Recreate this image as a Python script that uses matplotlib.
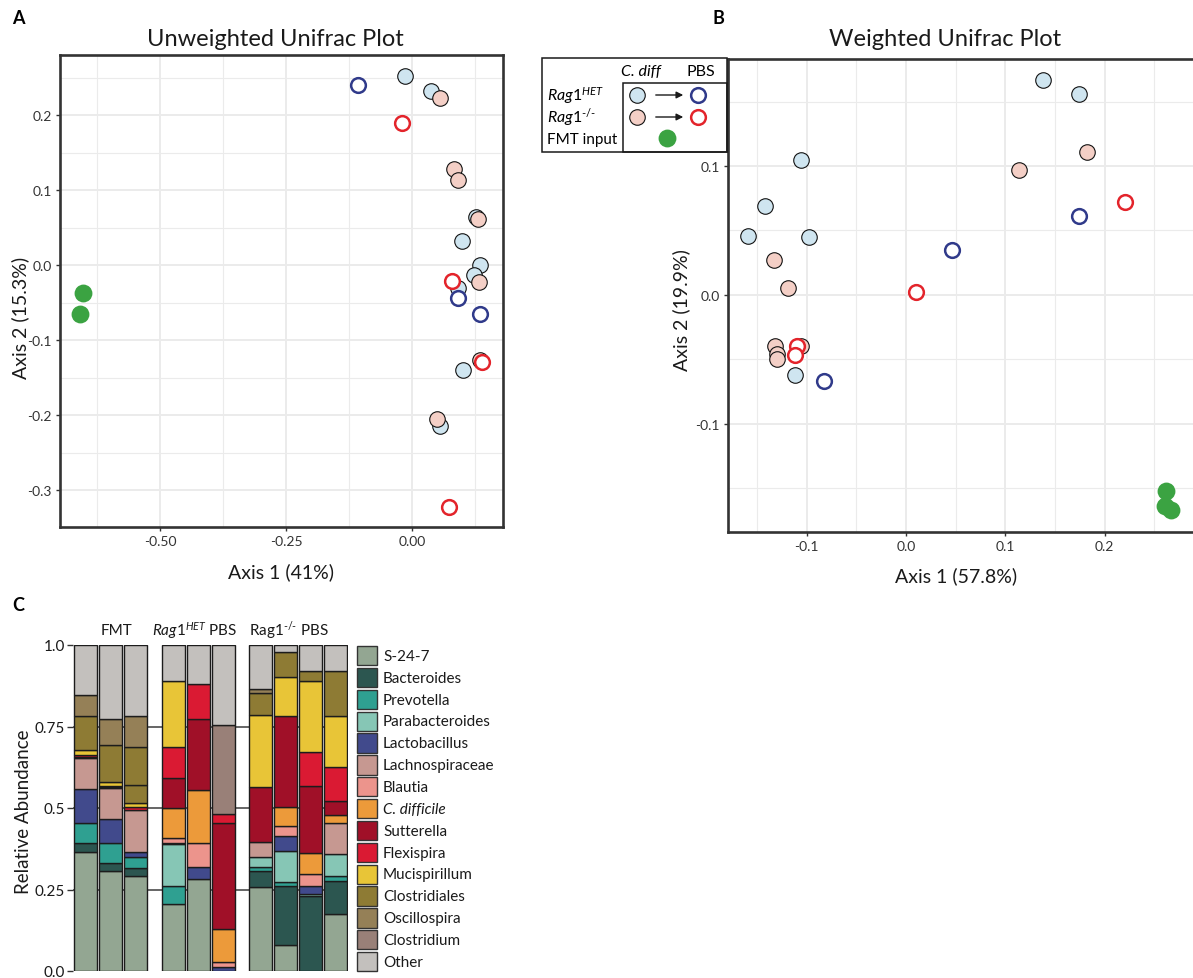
import matplotlib
matplotlib.use("Agg")
import matplotlib.pyplot as plt
from matplotlib.patches import Rectangle

plt.rcParams['font.family'] = ['Lato', 'DejaVu Sans']
plt.rcParams['mathtext.fontset'] = 'custom'
plt.rcParams['mathtext.rm'] = 'Lato'
plt.rcParams['mathtext.it'] = 'Lato:italic'
plt.rcParams['mathtext.bf'] = 'Lato:bold'

W, H = 1193, 979

# ---- PCoA data (Axis 1, Axis 2) ----
# unweighted unifrac
unw_het_cdiff = [(-0.014, 0.252), (0.038, 0.232), (0.126, 0.064), (0.098, 0.032), (0.134, 0.000),
                 (0.122, -0.013), (0.091, -0.030), (0.100, -0.140), (0.056, -0.215)]
unw_ko_cdiff = [(0.056, 0.223), (0.082, 0.128), (0.091, 0.114), (0.131, 0.061), (0.132, -0.022),
                (0.134, -0.126), (0.049, -0.205)]
unw_het_pbs = [(-0.107, 0.240), (0.090, -0.044), (0.135, -0.065)]
unw_ko_pbs = [(-0.020, 0.190), (0.078, -0.021), (0.139, -0.129), (0.073, -0.323)]
unw_fmt = [(-0.652, -0.037), (-0.659, -0.065)]

# weighted unifrac
w_het_cdiff = [(0.138, 0.167), (0.174, 0.156), (-0.106, 0.105), (-0.142, 0.069), (-0.159, 0.046),
               (-0.097, 0.045), (-0.112, -0.062)]
w_ko_cdiff = [(0.182, 0.111), (0.114, 0.097), (-0.133, 0.027), (-0.119, 0.005), (-0.106, -0.040),
              (-0.132, -0.040), (-0.130, -0.046), (-0.130, -0.050)]
w_het_pbs = [(0.174, 0.061), (0.046, 0.035), (-0.082, -0.067)]
w_ko_pbs = [(0.221, 0.072), (0.010, 0.002), (-0.110, -0.040), (-0.112, -0.047)]
w_fmt = [(0.262, -0.152), (0.261, -0.164), (0.267, -0.167)]

# ---- relative abundance, 10 samples ----
bar_x = [0, 1, 2, 3.5, 4.5, 5.5, 7, 8, 9, 10]
s247 = [0.364, 0.308, 0.292, 0.206, 0.282, 0, 0.257, 0.080, 0, 0.175]
bacteroides = [0.029, 0.023, 0.023, 0, 0, 0, 0.049, 0.182, 0.229, 0.100]
prevotella = [0.060, 0.062, 0.034, 0.056, 0, 0, 0.012, 0.012, 0, 0.015]
parabacteroides = [0, 0, 0, 0.128, 0, 0, 0.031, 0.093, 0.007, 0.069]
lactobacillus = [0.105, 0.073, 0.015, 0.003, 0.036, 0.013, 0, 0.048, 0.024, 0]
lachnospiraceae = [0.094, 0.095, 0.131, 0, 0, 0, 0.046, 0, 0, 0.094]
blautia = [0, 0, 0, 0.014, 0.075, 0.014, 0, 0.031, 0.038, 0]
cdiff = [0, 0, 0, 0.092, 0.162, 0.102, 0, 0.056, 0.063, 0.027]
sutterella = [0.004, 0.003, 0, 0.092, 0.218, 0.324, 0.168, 0.279, 0.208, 0.040]
flexispira = [0.006, 0.005, 0.007, 0.095, 0.107, 0.029, 0, 0, 0.102, 0.105]
mucispirillum = [0.017, 0.012, 0.013, 0.203, 0, 0, 0.222, 0.120, 0.218, 0.158]
clostridiales = [0.104, 0.112, 0.056, 0, 0, 0, 0.068, 0.077, 0.032, 0.136]
clostridiales_2 = [0, 0, 0.115, 0, 0, 0, 0, 0, 0, 0]  # second OTU, same colour
oscillospira = [0.064, 0.080, 0.097, 0, 0, 0, 0.012, 0, 0, 0]
clostridium = [0, 0, 0, 0, 0, 0.273, 0, 0, 0, 0]
other = [0.153, 0.227, 0.217, 0.111, 0.120, 0.245, 0.135, 0.022, 0.079, 0.081]

taxa = [("S-24-7", s247, "#93a692"), ("Bacteroides", bacteroides, "#2c5650"),
        ("Prevotella", prevotella, "#2fa091"), ("Parabacteroides", parabacteroides, "#86c6b5"),
        ("Lactobacillus", lactobacillus, "#414a8c"), ("Lachnospiraceae", lachnospiraceae, "#c69891"),
        ("Blautia", blautia, "#ec948c"), ("C. difficile", cdiff, "#ec9a3a"),
        ("Sutterella", sutterella, "#a01028"), ("Flexispira", flexispira, "#da1a33"),
        ("Mucispirillum", mucispirillum, "#e8c537"), ("Clostridiales", clostridiales, "#8e7b34"),
        (None, clostridiales_2, "#8e7b34"), ("Oscillospira", oscillospira, "#958057"),
        ("Clostridium", clostridium, "#998078"), ("Other", other, "#c3c0bd")]

c_light_blue = "#cfe5f0"
c_pink = "#f4cfc6"
c_blue = "#303a8a"
c_red = "#e3242b"
c_green = "#3ba342"

S_FILLED, S_OPEN, S_FMT = 125, 112, 165

fig = plt.figure(figsize=(W / 100, H / 100), dpi=100)


def pcoa_axes(rect, xlim, ylim, xt, xminor, yt, yminor, xfmt, yfmt):
    ax = fig.add_axes(rect)
    ax.set_xlim(*xlim)
    ax.set_ylim(*ylim)
    ax.set_xticks(xt)
    ax.set_xticklabels([xfmt % v for v in xt])
    ax.set_xticks(xminor, minor=True)
    ax.set_yticks(yt)
    ax.set_yticklabels([yfmt % v for v in yt])
    ax.set_yticks(yminor, minor=True)
    ax.grid(which='major', color='#ebebeb', lw=1.4, zorder=0)
    ax.grid(which='minor', color='#ebebeb', lw=0.8, zorder=0)
    ax.set_axisbelow(True)
    ax.tick_params(which='major', length=3, width=1, color='#333333', labelcolor='#333333',
                   labelsize=10, pad=3)
    ax.tick_params(which='minor', length=0)
    for s in ax.spines.values():
        s.set_color('#333333')
        s.set_linewidth(1.9)
    return ax


def draw_points(ax, het_c, ko_c, het_p, ko_p, fmt):
    for pts, fc in [(het_c, c_light_blue), (ko_c, c_pink)]:
        ax.scatter([p[0] for p in pts], [p[1] for p in pts], s=S_FILLED, facecolor=fc,
                   edgecolor='#111111', linewidth=0.8, zorder=3)
    for pts, ec in [(het_p, c_blue), (ko_p, c_red)]:
        ax.scatter([p[0] for p in pts], [p[1] for p in pts], s=S_OPEN, facecolor='white',
                   edgecolor=ec, linewidth=1.8, zorder=4)
    ax.scatter([p[0] for p in fmt], [p[1] for p in fmt], s=S_FMT, color=c_green,
               linewidth=0, zorder=4)


# ---- A ----
ax_a = pcoa_axes([60 / W, 1 - 528 / H, 443 / W, 472 / H], (-0.698, 0.18), (-0.349, 0.28),
                 [-0.5, -0.25, 0.0], [-0.625, -0.375, -0.125, 0.125],
                 [-0.3, -0.2, -0.1, 0.0, 0.1, 0.2], [-0.25, -0.15, -0.05, 0.05, 0.15, 0.25],
                 "%.2f", "%.1f")
draw_points(ax_a, unw_het_cdiff, unw_ko_cdiff, unw_het_pbs, unw_ko_pbs, unw_fmt)
fig.text(275 / W, 1 - 40 / H, "Unweighted Unifrac Plot", ha='center', va='center',
         fontsize=17, color='#1a1a1a')
fig.text(281 / W, 1 - 572 / H, "Axis 1 (41%)", ha='center', va='center', fontsize=14,
         color='#1a1a1a')
fig.text(20 / W, 1 - 318 / H, "Axis 2 (15.3%)", ha='center', va='center', fontsize=14,
         rotation=90, color='#1a1a1a')

# ---- B ----
ax_b = pcoa_axes([728 / W, 1 - 533 / H, 474 / W, 473 / H], (-0.179, 0.298), (-0.184, 0.183),
                 [-0.1, 0.0, 0.1, 0.2], [-0.15, -0.05, 0.05, 0.15, 0.25],
                 [-0.1, 0.0, 0.1], [-0.15, -0.05, 0.05, 0.15],
                 "%.1f", "%.1f")
draw_points(ax_b, w_het_cdiff, w_ko_cdiff, w_het_pbs, w_ko_pbs, w_fmt)
fig.text(945 / W, 1 - 40 / H, "Weighted Unifrac Plot", ha='center', va='center',
         fontsize=17, color='#1a1a1a')
fig.text(956 / W, 1 - 576 / H, "Axis 1 (57.8%)", ha='center', va='center', fontsize=14,
         color='#1a1a1a')
fig.text(681 / W, 1 - 310 / H, "Axis 2 (19.9%)", ha='center', va='center', fontsize=14,
         rotation=90, color='#1a1a1a')

# ---- C ----
ax_c = fig.add_axes([73 / W, 1 - 972 / H, 275 / W, 326 / H])
ax_c.set_xlim(-0.5, 10.5)
ax_c.set_ylim(0, 1)
for g in [0.25, 0.5, 0.75]:
    ax_c.axhline(g, color='#595959', lw=1.3, zorder=0)
bottom = [0.0] * len(bar_x)
for name, vals, col in taxa:
    for i, v in enumerate(vals):
        if v > 0:
            ax_c.bar(bar_x[i], v, bottom=bottom[i], width=0.92, color=col,
                     edgecolor='#1c1c1c', linewidth=1.0, zorder=2)
        bottom[i] += v
for s in ax_c.spines.values():
    s.set_visible(False)
ax_c.set_xticks([])
ax_c.set_yticks([0, 0.25, 0.5, 0.75, 1.0])
ax_c.set_yticklabels(["0.0", "0.25", "0.5", "0.75", "1.0"])
ax_c.tick_params(axis='y', length=4, width=1, color='#333333', labelcolor='#1a1a1a',
                 labelsize=11, pad=2)
fig.text(24 / W, 1 - 812 / H, "Relative Abundance", ha='center', va='center', fontsize=13.5,
         rotation=90, color='#1a1a1a')
facet_labels = [(1.22, "FMT"), (4.38, r"$\mathit{Rag1}^{\mathit{HET}}$ PBS"),
                (8.14, r"Rag1$^{\text{-/-}}$ PBS")]
for fx, lab in facet_labels:
    ax_c.text(fx, 1.0 + 15 / 326, lab, ha='center', va='center', fontsize=11,
              color='#1a1a1a', transform=ax_c.get_xaxis_transform())

# ---- overlay (legends, panel letters) in pixel coordinates ----
ov = fig.add_axes([0, 0, 1, 1], zorder=10)
ov.set_xlim(0, W)
ov.set_ylim(H, 0)
ov.axis('off')
ov.patch.set_alpha(0)

for lx, ly, letter in [(18, 18, "A"), (718, 19, "B"), (18, 606, "C")]:
    ov.text(lx, ly, letter, ha='center', va='center', fontsize=13, fontweight='bold')

# legend for A/B
ov.add_patch(Rectangle((542, 59), 185, 94, fill=False, edgecolor='#1a1a1a', lw=1.1))
ov.add_patch(Rectangle((623, 84), 104, 69, fill=False, edgecolor='#1a1a1a', lw=1.1))
ov.text(641, 72, "C. diff", ha='center', va='center', fontsize=11.5, style='italic')
ov.text(701, 72, "PBS", ha='center', va='center', fontsize=11.5)
ov.text(547, 96, r"$\mathit{Rag1}^{\mathit{HET}}$", ha='left', va='center', fontsize=11.5)
ov.text(547, 118, r"$\mathit{Rag1}^{\text{-/-}}$", ha='left', va='center', fontsize=11.5)
ov.text(547, 140, "FMT input", ha='left', va='center', fontsize=11)
for ry, fc, ec in [(96, c_light_blue, c_blue), (118, c_pink, c_red)]:
    ov.scatter([637], [ry], s=S_FILLED, facecolor=fc, edgecolor='#111111', linewidth=0.8)
    ov.annotate("", xy=(686, ry), xytext=(653, ry),
                arrowprops=dict(arrowstyle='-|>', color='#1a1a1a', lw=1.0, mutation_scale=10))
    ov.scatter([698], [ry], s=S_OPEN, facecolor='white', edgecolor=ec, linewidth=1.8)
ov.scatter([667], [139], s=S_FMT, color=c_green, linewidth=0)

# legend for C
step = 21.85
k = 0
for name, vals, col in taxa:
    if name is None:
        continue
    top = 646 + k * step
    ov.add_patch(Rectangle((357, top + 1), 20, step - 2.5, facecolor=col,
                           edgecolor='#333333', lw=1.0))
    ov.text(383, top + step / 2, name, ha='left', va='center', fontsize=11,
            style='italic' if name == "C. difficile" else 'normal', color='#1a1a1a')
    k += 1

fig.savefig("out.png", dpi=100)
